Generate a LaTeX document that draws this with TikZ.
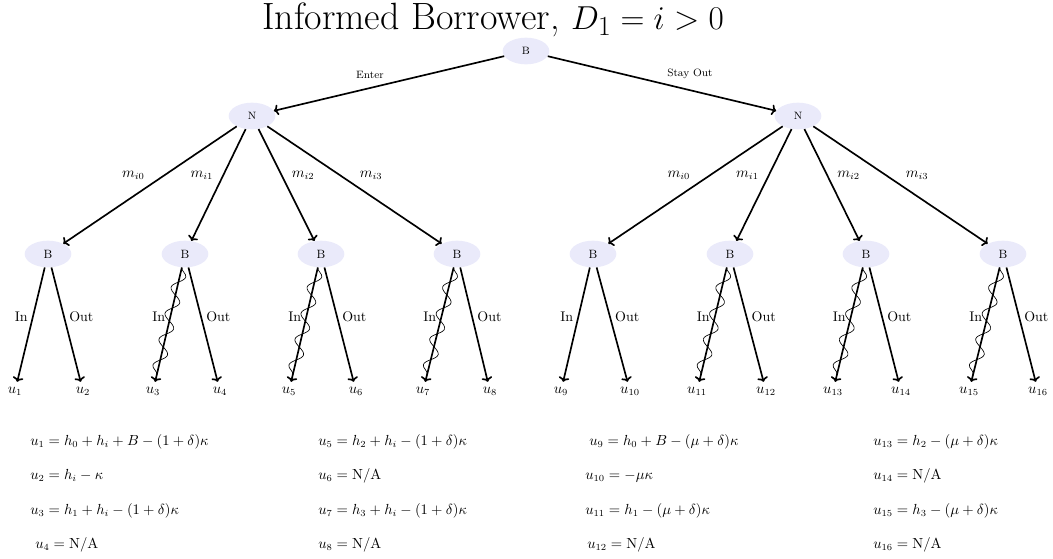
\documentclass[tikz,border=0pt]{standalone}
\usetikzlibrary{shapes.geometric,decorations.pathmorphing,arrows.meta}
\definecolor{nodefill}{RGB}{234,234,250}
\begin{document}
\begin{tikzpicture}[x=0.75pt,y=-0.75pt,
  font=\fontsize{10.5}{12.6}\selectfont,
  pnode/.style={ellipse, fill=nodefill, minimum width=35pt, minimum height=20pt, inner sep=0pt, font=\footnotesize},
  bnode/.style={pnode, font=\small},
  leaf/.style={anchor=base, inner sep=3.5pt},
  arr/.style={-{To[length=3.5pt,width=8pt]}, line width=1.25pt},
  wig/.style={decorate, decoration={snake, amplitude=4.5pt, segment length=20pt}, line width=0.5pt},
  lab/.style={font=\footnotesize},
  ioleft/.style={left, pos=0.43},
  ioright/.style={right, pos=0.43},
  pay/.style={anchor=base west, inner sep=0pt}]
\useasboundingbox (0,0) rectangle (1053,558);

\node[anchor=base, font=\fontsize{28.5}{32}\selectfont] (title) at (493,29) {Informed Borrower, $D_1 = i > 0$};

\node[pnode] (root) at (526,51) {B};
\node[pnode] (NL) at (252,116) {N};
\node[pnode] (NR) at (798,116) {N};

\node[bnode] (B1) at (48,254) {B};
\node[bnode] (B2) at (185,254) {B};
\node[bnode] (B3) at (321,254) {B};
\node[bnode] (B4) at (457,254) {B};
\node[bnode] (B5) at (593,254) {B};
\node[bnode] (B6) at (730,254) {B};
\node[bnode] (B7) at (866,254) {B};
\node[bnode] (B8) at (1003,254) {B};

\node[leaf] (u1) at (15,393) {$u_1$};
\node[leaf] (u2) at (83,393) {$u_2$};
\node[leaf] (u3) at (153,393) {$u_3$};
\node[leaf] (u4) at (220,393) {$u_4$};
\node[leaf] (u5) at (289,393) {$u_5$};
\node[leaf] (u6) at (356,393) {$u_6$};
\node[leaf] (u7) at (423,393) {$u_7$};
\node[leaf] (u8) at (490,393) {$u_8$};
\node[leaf] (u9) at (561,393) {$u_9$};
\node[leaf] (u10) at (630,393) {$u_{10}$};
\node[leaf] (u11) at (697,393) {$u_{11}$};
\node[leaf] (u12) at (766,393) {$u_{12}$};
\node[leaf] (u13) at (833,393) {$u_{13}$};
\node[leaf] (u14) at (901,393) {$u_{14}$};
\node[leaf] (u15) at (969,393) {$u_{15}$};
\node[leaf] (u16) at (1038,393) {$u_{16}$};

% top level
\draw[arr] (root) -- node[above left, lab] {Enter} (NL);
\draw[arr] (root) -- node[above right, lab] {Stay Out} (NR);

% second level
\draw[arr] (NL) -- node[above left] {$m_{i0}$} (B1);
\draw[arr] (NL) -- node[above left] {$m_{i1}$} (B2);
\draw[arr] (NL) -- node[above right] {$m_{i2}$} (B3);
\draw[arr] (NL) -- node[above right] {$m_{i3}$} (B4);
\draw[arr] (NR) -- node[above left] {$m_{i0}$} (B5);
\draw[arr] (NR) -- node[above left] {$m_{i1}$} (B6);
\draw[arr] (NR) -- node[above right] {$m_{i2}$} (B7);
\draw[arr] (NR) -- node[above right] {$m_{i3}$} (B8);

% third level
\draw[arr] (B1) -- node[ioleft] {In} (u1);
\draw[arr] (B1) -- node[ioright] {Out} (u2);
\draw[arr] (B2) -- node[ioleft] {In} (u3);
\draw[wig] (B2) -- (u3);
\draw[arr] (B2) -- node[ioright] {Out} (u4);
\draw[arr] (B3) -- node[ioleft] {In} (u5);
\draw[wig] (B3) -- (u5);
\draw[arr] (B3) -- node[ioright] {Out} (u6);
\draw[arr] (B4) -- node[ioleft] {In} (u7);
\draw[wig] (B4) -- (u7);
\draw[arr] (B4) -- node[ioright] {Out} (u8);
\draw[arr] (B5) -- node[ioleft] {In} (u9);
\draw[arr] (B5) -- node[ioright] {Out} (u10);
\draw[arr] (B6) -- node[ioleft] {In} (u11);
\draw[wig] (B6) -- (u11);
\draw[arr] (B6) -- node[ioright] {Out} (u12);
\draw[arr] (B7) -- node[ioleft] {In} (u13);
\draw[wig] (B7) -- (u13);
\draw[arr] (B7) -- node[ioright] {Out} (u14);
\draw[arr] (B8) -- node[ioleft] {In} (u15);
\draw[wig] (B8) -- (u15);
\draw[arr] (B8) -- node[ioright] {Out} (u16);

% payoffs
\node[pay] (p1) at (30,445) {$u_1 = h_0 + h_i + B - (1+\delta)\kappa$};
\node[pay] (p2) at (30,479.5) {$u_2 = h_i - \kappa$};
\node[pay] (p3) at (30,514) {$u_3 = h_1 + h_i - (1+\delta)\kappa$};
\node[pay] (p4) at (35,548.5) {$u_4 = \mathrm{N/A}$};
\node[pay] (p5) at (318,445) {$u_5 = h_2 + h_i - (1+\delta)\kappa$};
\node[pay] (p6) at (318,479.5) {$u_6 = \mathrm{N/A}$};
\node[pay] (p7) at (318,514) {$u_7 = h_3 + h_i - (1+\delta)\kappa$};
\node[pay] (p8) at (318,548.5) {$u_8 = \mathrm{N/A}$};
\node[pay] (p9) at (589,445) {$u_9 = h_0 + B - (\mu+\delta)\kappa$};
\node[pay] (p10) at (585,479.5) {$u_{10} = -\mu\kappa$};
\node[pay] (p11) at (585,514) {$u_{11} = h_1 - (\mu+\delta)\kappa$};
\node[pay] (p12) at (587,548.5) {$u_{12} = \mathrm{N/A}$};
\node[pay] (p13) at (873,445) {$u_{13} = h_2 - (\mu+\delta)\kappa$};
\node[pay] (p14) at (873,479.5) {$u_{14} = \mathrm{N/A}$};
\node[pay] (p15) at (873,514) {$u_{15} = h_3 - (\mu+\delta)\kappa$};
\node[pay] (p16) at (873,548.5) {$u_{16} = \mathrm{N/A}$};
\end{tikzpicture}
\end{document}
